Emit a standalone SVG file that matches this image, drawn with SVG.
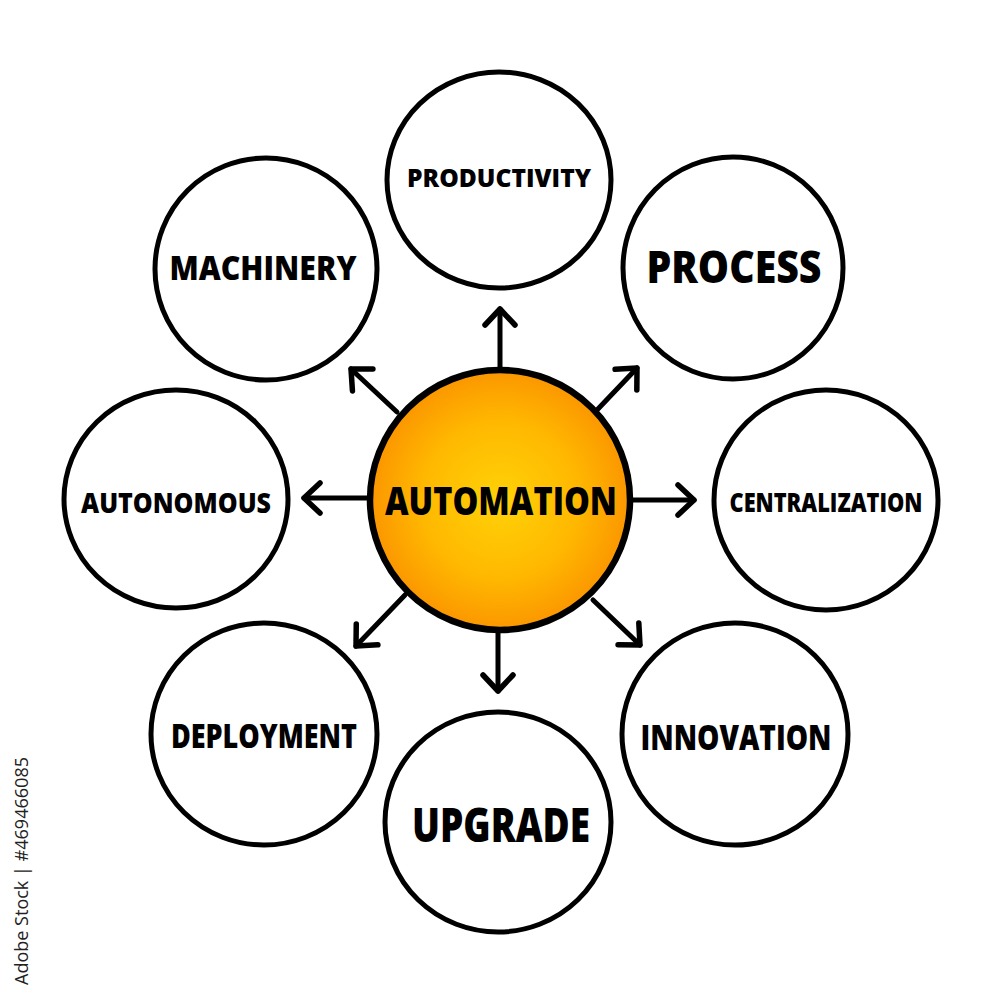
<svg xmlns="http://www.w3.org/2000/svg" width="1000" height="1000" viewBox="0 0 1000 1000">
  <defs>
    <radialGradient id="orange" cx="0.5" cy="0.5" r="0.5">
      <stop offset="0" stop-color="#FFD208"/>
      <stop offset="0.6" stop-color="#FFB800"/>
      <stop offset="1" stop-color="#FB9600"/>
    </radialGradient>
    <marker id="head" viewBox="-20 -20 24 40" markerWidth="24" markerHeight="40" refX="0" refY="0" orient="auto" markerUnits="userSpaceOnUse">
      <path d="M-16,-15 L0,0 L-16,15" fill="none" stroke="#000" stroke-width="5.5" stroke-linecap="round" stroke-linejoin="round"/>
    </marker>
  </defs>
  <style>
    .node { fill: #fff; stroke: #000; stroke-width: 5; }
    .hub { fill: url(#orange); stroke: #000; stroke-width: 6.5; }
    .lbl { font-family: "Open Sans", "DejaVu Sans", sans-serif; font-weight: 800; fill: #000; text-anchor: middle; }
    .conn { stroke: #000; stroke-width: 5; stroke-linecap: round; fill: none; marker-end: url(#head); }
    .wm { font-family: "Open Sans", "Liberation Sans", sans-serif; font-size: 18px; fill: #222; text-anchor: middle; }
  </style>
  <rect width="1000" height="1000" fill="#fff"/>

  <g id="connectors">
    <line class="conn" x1="500" y1="370" x2="500" y2="309"/>
    <line class="conn" x1="597" y1="410" x2="637" y2="368"/>
    <line class="conn" x1="633" y1="500" x2="694" y2="500"/>
    <line class="conn" x1="593" y1="600" x2="640" y2="645"/>
    <line class="conn" x1="498" y1="630" x2="498" y2="691"/>
    <line class="conn" x1="405" y1="595" x2="356" y2="646"/>
    <line class="conn" x1="368" y1="498" x2="304" y2="498"/>
    <line class="conn" x1="397" y1="412" x2="351" y2="369"/>
  </g>

  <g id="node-automation">
    <circle class="hub" cx="500" cy="500" r="130"/>
    <text class="lbl" x="501" y="515" font-size="38" textLength="232" lengthAdjust="spacingAndGlyphs">AUTOMATION</text>
  </g>

  <g id="node-productivity">
    <ellipse class="node" cx="499" cy="180" rx="112" ry="108"/>
    <text class="lbl" x="499" y="187" font-size="25" textLength="184" lengthAdjust="spacingAndGlyphs">PRODUCTIVITY</text>
  </g>

  <g id="node-process">
    <ellipse class="node" cx="733" cy="268" rx="110" ry="111"/>
    <text class="lbl" x="734" y="283" font-size="44" textLength="175" lengthAdjust="spacingAndGlyphs">PROCESS</text>
  </g>

  <g id="node-centralization">
    <ellipse class="node" cx="826" cy="500" rx="112" ry="110"/>
    <text class="lbl" x="826" y="512" font-size="26" textLength="193" lengthAdjust="spacingAndGlyphs">CENTRALIZATION</text>
  </g>

  <g id="node-innovation">
    <ellipse class="node" cx="735" cy="734" rx="113" ry="111"/>
    <text class="lbl" x="736" y="750" font-size="36" textLength="191" lengthAdjust="spacingAndGlyphs">INNOVATION</text>
  </g>

  <g id="node-upgrade">
    <ellipse class="node" cx="498" cy="822" rx="113" ry="110"/>
    <text class="lbl" x="501" y="842" font-size="47" textLength="178" lengthAdjust="spacingAndGlyphs">UPGRADE</text>
  </g>

  <g id="node-deployment">
    <ellipse class="node" cx="264" cy="734" rx="113" ry="111"/>
    <text class="lbl" x="264" y="748" font-size="33" textLength="186" lengthAdjust="spacingAndGlyphs">DEPLOYMENT</text>
  </g>

  <g id="node-autonomous">
    <ellipse class="node" cx="176" cy="499" rx="112" ry="109"/>
    <text class="lbl" x="176" y="513" font-size="28" textLength="190" lengthAdjust="spacingAndGlyphs">AUTONOMOUS</text>
  </g>

  <g id="node-machinery">
    <ellipse class="node" cx="266" cy="269" rx="111" ry="111"/>
    <text class="lbl" x="263" y="280" font-size="34" textLength="187" lengthAdjust="spacingAndGlyphs">MACHINERY</text>
  </g>

  <text class="wm" transform="translate(28,871) rotate(-90)" textLength="228" lengthAdjust="spacingAndGlyphs">Adobe Stock | #469466085</text>
</svg>
